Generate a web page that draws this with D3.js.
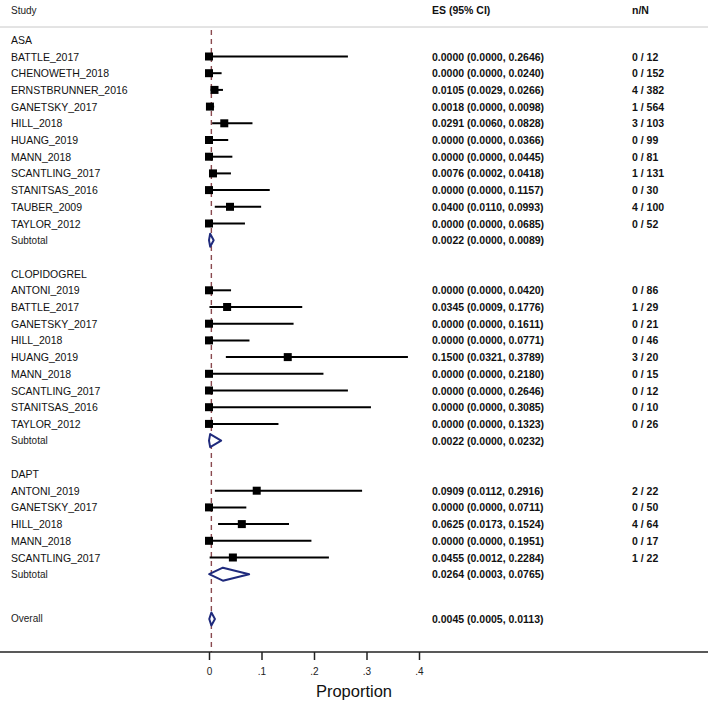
<!DOCTYPE html>
<html>
<head>
<meta charset="utf-8">
<script src="https://cdn.jsdelivr.net/npm/d3@7"></script>
<style>
  html, body { margin: 0; padding: 0; background: #fff; }
  svg { display: block; font-family: "Liberation Sans", Arial, sans-serif; }
</style>
</head>
<body>
<div id="chart"></div>
<script>
// ---------- DATA ----------
const groups = ["ASA", "CLOPIDOGREL", "DAPT"];

const studyGroup = [
  "ASA","ASA","ASA","ASA","ASA","ASA","ASA","ASA","ASA","ASA","ASA",
  "CLOPIDOGREL","CLOPIDOGREL","CLOPIDOGREL","CLOPIDOGREL","CLOPIDOGREL","CLOPIDOGREL","CLOPIDOGREL","CLOPIDOGREL","CLOPIDOGREL",
  "DAPT","DAPT","DAPT","DAPT","DAPT"
];
const studyNames = [
  "BATTLE_2017","CHENOWETH_2018","ERNSTBRUNNER_2016","GANETSKY_2017","HILL_2018","HUANG_2019","MANN_2018","SCANTLING_2017","STANITSAS_2016","TAUBER_2009","TAYLOR_2012",
  "ANTONI_2019","BATTLE_2017","GANETSKY_2017","HILL_2018","HUANG_2019","MANN_2018","SCANTLING_2017","STANITSAS_2016","TAYLOR_2012",
  "ANTONI_2019","GANETSKY_2017","HILL_2018","MANN_2018","SCANTLING_2017"
];
const studyES = [
  0.0000,0.0000,0.0105,0.0018,0.0291,0.0000,0.0000,0.0076,0.0000,0.0400,0.0000,
  0.0000,0.0345,0.0000,0.0000,0.1500,0.0000,0.0000,0.0000,0.0000,
  0.0909,0.0000,0.0625,0.0000,0.0455
];
const studyLower = [
  0.0000,0.0000,0.0029,0.0000,0.0060,0.0000,0.0000,0.0002,0.0000,0.0110,0.0000,
  0.0000,0.0009,0.0000,0.0000,0.0321,0.0000,0.0000,0.0000,0.0000,
  0.0112,0.0000,0.0173,0.0000,0.0012
];
const studyUpper = [
  0.2646,0.0240,0.0266,0.0098,0.0828,0.0366,0.0445,0.0418,0.1157,0.0993,0.0685,
  0.0420,0.1776,0.1611,0.0771,0.3789,0.2180,0.2646,0.3085,0.1323,
  0.2916,0.0711,0.1524,0.1951,0.2284
];
const studyEvents = [
  0,0,4,1,3,0,0,1,0,4,0,
  0,1,0,0,3,0,0,0,0,
  2,0,4,0,1
];
const studyTotals = [
  12,152,382,564,103,99,81,131,30,100,52,
  86,29,21,46,20,15,12,10,26,
  22,50,64,17,22
];

const subtotalES    = [0.0022, 0.0022, 0.0264];
const subtotalLower = [0.0000, 0.0000, 0.0003];
const subtotalUpper = [0.0089, 0.0232, 0.0765];

const overallES = 0.0045, overallLower = 0.0005, overallUpper = 0.0113;

const tickValues = [0, 0.1, 0.2, 0.3, 0.4];
const tickLabels = ["0", ".1", ".2", ".3", ".4"];
const headerLabels = ["Study", "ES (95% CI)", "n/N"];
const axisTitle = "Proportion";

// ---------- LAYOUT ----------
const W = 708, H = 704;
const svg = d3.select("#chart").append("svg").attr("width", W).attr("height", H);

const x = d3.scaleLinear().domain([0, 0.4]).range([209, 419]);
const y = d3.scaleLinear().domain([0, 1]).range([39.8, 56.5]);
const fmt = d3.format(".4f");
const esText = (e, l, u) => `${fmt(e)} (${fmt(l)}, ${fmt(u)})`;

// build rows
const rows = [];
let r = 0;
groups.forEach((g, gi) => {
  rows.push({type: "group", label: g, row: r++});
  studyNames.forEach((n, i) => {
    if (studyGroup[i] !== g) return;
    rows.push({type: "study", label: n, es: studyES[i], lo: studyLower[i], hi: studyUpper[i],
               nn: `${studyEvents[i]} / ${studyTotals[i]}`, row: r++});
  });
  rows.push({type: "subtotal", label: "Subtotal", es: subtotalES[gi], lo: subtotalLower[gi], hi: subtotalUpper[gi], row: r++});
  if (gi < groups.length - 1) r++; // blank line
});
rows.push({type: "overall", label: "Overall", es: overallES, lo: overallLower, hi: overallUpper, row: r - 1 + 2.68});

const colStudyX = 11, colESX = 432, colNX = 632;
const textColor = "#111";

// header
const headerY = 10;
svg.append("text").attr("x", colStudyX).attr("y", headerY).attr("dominant-baseline", "central")
  .attr("font-size", 10).attr("fill", "#222").text(headerLabels[0]);
svg.append("text").attr("x", colESX).attr("y", headerY).attr("dominant-baseline", "central")
  .attr("font-size", 10.5).attr("font-weight", "bold").attr("fill", textColor).text(headerLabels[1]);
svg.append("text").attr("x", colNX).attr("y", headerY).attr("dominant-baseline", "central")
  .attr("font-size", 10.5).attr("font-weight", "bold").attr("fill", textColor).text(headerLabels[2]);

// top rule
svg.append("line").attr("x1", 0).attr("x2", W).attr("y1", 27).attr("y2", 27)
  .attr("stroke", "#c8c8c8").attr("stroke-width", 1);

// reference dashed line at overall estimate
const axisY = 652;
svg.append("line").attr("x1", x(overallES)).attr("x2", x(overallES)).attr("y1", 30).attr("y2", axisY)
  .attr("stroke", "#8a4a4f").attr("stroke-width", 1.4).attr("stroke-dasharray", "5,4");

// left labels
svg.append("g").selectAll("text").data(rows).join("text")
  .attr("x", colStudyX).attr("y", d => y(d.row)).attr("dominant-baseline", "central")
  .attr("font-size", d => (d.type === "subtotal" || d.type === "overall") ? 10 : 10.5)
  .attr("fill", d => (d.type === "subtotal" || d.type === "overall") ? "#222" : textColor)
  .text(d => d.label);

// ES text
svg.append("g").selectAll("text").data(rows.filter(d => d.type !== "group")).join("text")
  .attr("x", colESX).attr("y", d => y(d.row)).attr("dominant-baseline", "central")
  .attr("font-size", 10.5).attr("font-weight", "bold").attr("fill", textColor)
  .text(d => esText(d.es, d.lo, d.hi));

// n/N text
svg.append("g").selectAll("text").data(rows.filter(d => d.type === "study")).join("text")
  .attr("x", colNX).attr("y", d => y(d.row)).attr("dominant-baseline", "central")
  .attr("font-size", 10.5).attr("font-weight", "bold").attr("fill", textColor)
  .text(d => d.nn);

// CI lines
const studies = rows.filter(d => d.type === "study");
svg.append("g").selectAll("line").data(studies).join("line")
  .attr("x1", d => x(d.lo)).attr("x2", d => x(d.hi))
  .attr("y1", d => y(d.row)).attr("y2", d => y(d.row))
  .attr("stroke", "#000").attr("stroke-width", 2);

// squares
const sq = 8;
svg.append("g").selectAll("rect").data(studies).join("rect")
  .attr("x", d => x(d.es) - sq / 2).attr("y", d => y(d.row) - sq / 2)
  .attr("width", sq).attr("height", sq).attr("fill", "#000");

// diamonds
const dh = 6.5;
svg.append("g").selectAll("path").data(rows.filter(d => d.type === "subtotal" || d.type === "overall")).join("path")
  .attr("d", d => {
    const cy = y(d.row);
    return `M${x(d.lo)},${cy}L${x(d.es)},${cy - dh}L${x(d.hi)},${cy}L${x(d.es)},${cy + dh}Z`;
  })
  .attr("fill", "#fff").attr("stroke", "#1f2a7c").attr("stroke-width", 2).attr("stroke-linejoin", "round");

// axis
svg.append("line").attr("x1", 0).attr("x2", W).attr("y1", axisY).attr("y2", axisY)
  .attr("stroke", "#222").attr("stroke-width", 1.5);
const axis = d3.axisBottom(x).tickValues(tickValues)
  .tickFormat((d, i) => tickLabels[i]).tickSize(8).tickPadding(8);
const ag = svg.append("g").attr("transform", `translate(0,${axisY})`).call(axis);
ag.select(".domain").remove();
ag.selectAll(".tick line").attr("stroke", "#222").attr("stroke-width", 1.5);
ag.selectAll(".tick text").attr("font-size", 10).attr("fill", "#222")
  .attr("font-family", "Liberation Sans, Arial, sans-serif");

svg.append("text").attr("x", W / 2).attr("y", 691).attr("text-anchor", "middle")
  .attr("dominant-baseline", "central").attr("font-size", 16.5).attr("fill", "#111").text(axisTitle);
</script>
</body>
</html>
